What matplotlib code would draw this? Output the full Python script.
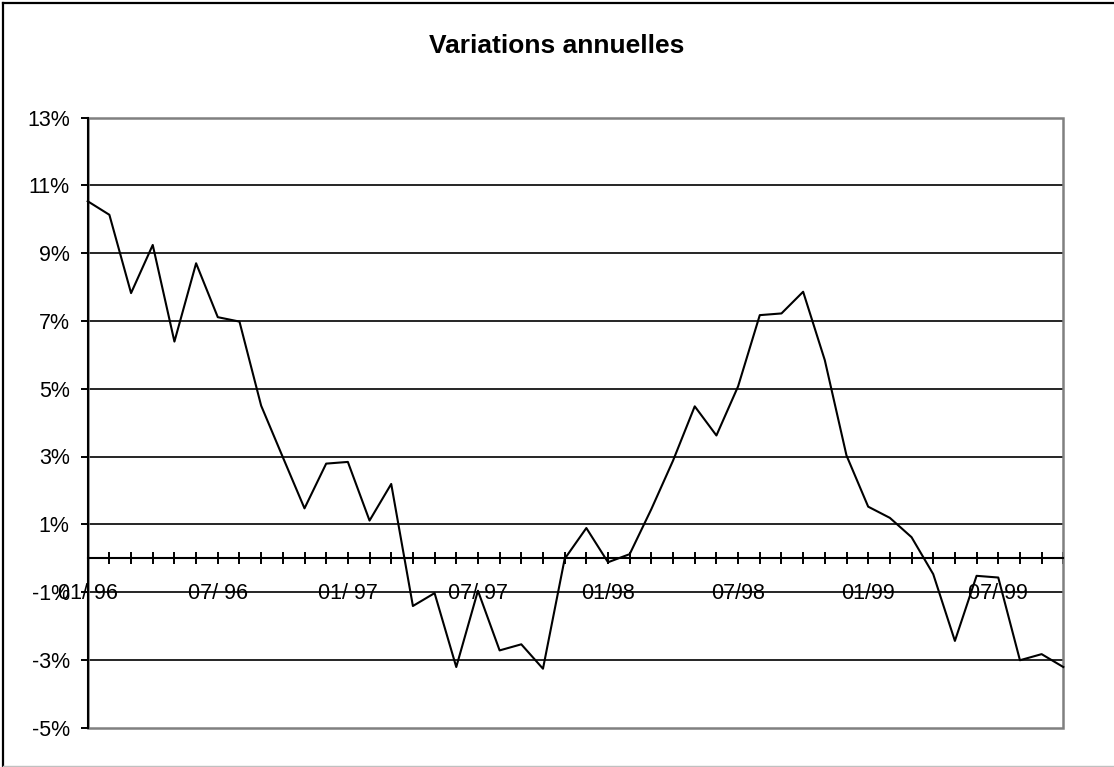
import matplotlib.pyplot as plt
from matplotlib.lines import Line2D
from matplotlib.patches import Rectangle

plt.rcParams['font.family'] = ['Liberation Sans', 'DejaVu Sans']

# Mois (01/96 -> 10/99) et variations annuelles (%)
mois = ["01/ 96", "02/96", "03/96", "04/96", "05/96", "06/96", "07/ 96", "08/96",
        "09/96", "10/96", "11/96", "12/96", "01/ 97", "02/97", "03/97", "04/97",
        "05/97", "06/97", "07/ 97", "08/97", "09/97", "10/97", "11/97", "12/97",
        "01/98", "02/98", "03/98", "04/98", "05/98", "06/98", "07/98", "08/98",
        "09/98", "10/98", "11/98", "12/98", "01/99", "02/99", "03/99", "04/99",
        "05/99", "06/99", "07/ 99", "08/99", "09/99", "10/99"]
variation = [10.53, 10.13, 7.82, 9.24, 6.39, 8.70, 7.11, 6.98, 4.50, 2.98,
             1.47, 2.79, 2.84, 1.11, 2.19, -1.41, -1.03, -3.21, -0.96, -2.72,
             -2.54, -3.26, -0.02, 0.89, -0.12, 0.12, 1.45, 2.88, 4.48, 3.62,
             5.07, 7.17, 7.22, 7.86, 5.84, 3.03, 1.52, 1.19, 0.62, -0.47,
             -2.44, -0.52, -0.57, -3.01, -2.83, -3.21]
pas_etiquette = 6
y_ticks = list(range(-5, 14, 2))

W, H = 1114, 767
fig = plt.figure(figsize=(W / 100, H / 100), dpi=100)
ax = fig.add_axes([87.7 / W, 1 - 727.7 / H, (1063.3 - 87.7) / W, (727.7 - 117.5) / H])

x = list(range(len(variation)))
ax.set_xlim(0, len(variation) - 1)
ax.set_ylim(-5, 13)

# grille horizontale
for v in y_ticks[1:-1]:
    ax.axhline(v, color='black', lw=1.2, zorder=1)

ax.plot(x, variation, color='black', lw=1.5, zorder=3, clip_on=False)

# cadre gris de la zone de tracé
ax.add_patch(Rectangle((0, 0), 1, 1, transform=ax.transAxes, fill=False,
                       edgecolor='#808080', lw=1.8, zorder=2, clip_on=False))
ax.spines['top'].set_visible(False)
ax.spines['right'].set_visible(False)
ax.spines['left'].set_color('black')
ax.spines['left'].set_linewidth(1.5)
ax.spines['left'].set_zorder(4)
ax.spines['bottom'].set_position(('data', 0))
ax.spines['bottom'].set_color('black')
ax.spines['bottom'].set_linewidth(1.5)

ax.set_yticks(y_ticks)
ax.set_yticklabels([f"{v}%" for v in y_ticks])
ax.tick_params(axis='y', direction='out', length=5, width=1.4, pad=8,
               labelsize=15.5, color='black')

ax.set_xticks(x)
ax.set_xticklabels([m if i % pas_etiquette == 0 else "" for i, m in enumerate(mois)])
ax.tick_params(axis='x', direction='inout', length=9, width=1.4, pad=13,
               labelsize=15.5, color='black')

fig.text(0.5, 1 - 46 / H, "Variations annuelles", ha='center', va='center',
         fontsize=19, fontweight='bold')

# cadre extérieur
fig.add_artist(Line2D([3 / W, 3 / W], [0, 1 - 3 / H], color='black', lw=1.6,
                      transform=fig.transFigure))
fig.add_artist(Line2D([3 / W, 1], [1 - 3 / H, 1 - 3 / H], color='black', lw=1.6,
                      transform=fig.transFigure))
fig.add_artist(Line2D([3 / W, 1], [1 / H, 1 / H], color='#c0c0c0', lw=1.0,
                      transform=fig.transFigure))

fig.savefig("out.png", dpi=100)
